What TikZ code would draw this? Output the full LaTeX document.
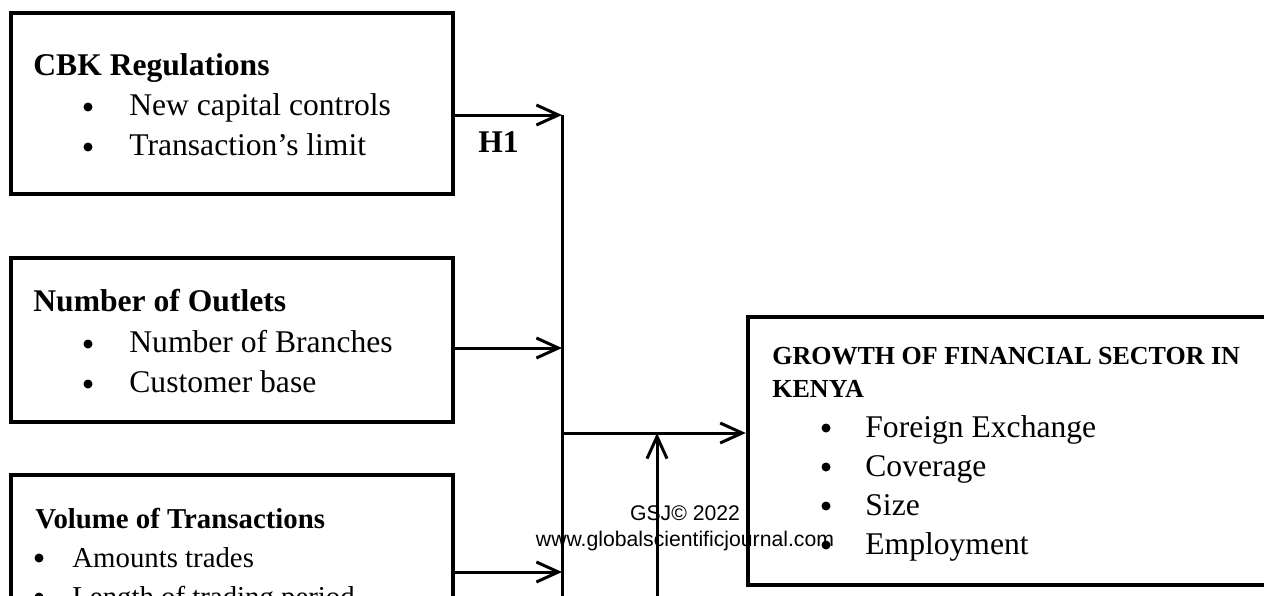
\documentclass[tikz,border=0pt]{standalone}
\usepackage{fontspec}
\setmainfont{Liberation Serif}
\newfontfamily\gsjfont{Liberation Sans}
\usetikzlibrary{arrows.meta}

\tikzset{
  varbox/.style={draw, line width=2.2pt, rectangle, inner sep=0pt},
  link/.style={line width=1.5pt, -{Straight Barb[length=11pt,width=10pt]}},
  bus/.style={line width=1.5pt},
  head/.style={anchor=base west, inner sep=0pt, font=\fontsize{15.8}{19}\selectfont\bfseries},
  item/.style={anchor=base west, inner sep=0pt, font=\fontsize{15.8}{19}\selectfont},
  dot/.style={circle, fill, inner sep=0pt, minimum size=4.5pt},
  wmtext/.style={anchor=base, inner sep=0pt, font=\gsjfont\fontsize{10.6}{12}\selectfont},
}

\begin{document}
\begin{tikzpicture}[x=0.5pt, y=-0.5pt]
        \path[use as bounding box] (0, 0) rectangle (1264, 595);
        \clip (0, 0) rectangle (1264, 595);

        % boxes
        \node[varbox, minimum width=221pt, minimum height=90.5pt] (cbk) at (232, 103.5) {};
        \node[varbox, minimum width=221pt, minimum height=82pt] (outlets) at (232, 340) {};
        \node[varbox, minimum width=221pt, minimum height=82.5pt] (volume) at (232, 557.5) {};
        \node[varbox, minimum width=266pt, minimum height=134pt] (growth) at (1014, 451) {};

        % CBK regulations
        \node[head] (cbkhead) at (33, 75) {CBK Regulations};
        \node[dot] (cbkdot1) at (88, 107) {};
        \node[item] (cbkitem1) at (129, 115) {New capital controls};
        \node[dot] (cbkdot2) at (88, 147) {};
        \node[item] (cbkitem2) at (129, 155) {Transaction’s limit};

        % number of outlets
        \node[head] (outhead) at (33, 311) {Number of Outlets};
        \node[dot] (outdot1) at (88, 344) {};
        \node[item] (outitem1) at (129, 352) {Number of Branches};
        \node[dot] (outdot2) at (88, 384) {};
        \node[item] (outitem2) at (129, 392) {Customer base};

        % volume of transactions
        \node[head, font=\fontsize{14.4}{17}\selectfont\bfseries] (volhead) at (35, 528) {Volume of Transactions};
        \node[dot] (voldot1) at (39, 558) {};
        \node[item, font=\fontsize{14.4}{17}\selectfont] (volitem1) at (72, 567) {Amounts trades};
        \node[dot] (voldot2) at (39, 597) {};
        \node[item, font=\fontsize{14.4}{17}\selectfont] (volitem2) at (72, 606) {Length of trading period};

        % growth of financial sector
        \node[head, font=\fontsize{13}{16}\selectfont\bfseries] (grhead1) at (772, 364) {GROWTH OF FINANCIAL SECTOR IN};
        \node[head, font=\fontsize{13}{16}\selectfont\bfseries] (grhead2) at (772, 397) {KENYA};
        \node[dot] (grdot1) at (826, 428) {};
        \node[item] (gritem1) at (865, 437) {Foreign Exchange};
        \node[dot] (grdot2) at (826, 467) {};
        \node[item] (gritem2) at (865, 476) {Coverage};
        \node[dot] (grdot3) at (826, 506) {};
        \node[item] (gritem3) at (865, 515) {Size};
        \node[dot] (grdot4) at (826, 545) {};
        \node[item] (gritem4) at (865, 554) {Employment};

        % connectors
        \coordinate (tip1) at (562, 115);
        \coordinate (tip2) at (562, 348);
        \coordinate (tip3) at (562, 572);
        \coordinate (busend) at (562, 610);
        \coordinate (join) at (562, 433);
        \coordinate (modtip) at (657, 433);
        \coordinate (modend) at (657, 610);
        \draw[link] (cbk.east |- tip1) -- (tip1);
        \draw[link] (outlets.east |- tip2) -- (tip2);
        \draw[link] (volume.east |- tip3) -- (tip3);
        \draw[bus] (tip1) -- (busend);
        \draw[link] (join) -- (growth.west |- join);
        \draw[link] (modend) -- (modtip);
        \node[head] (hyp) at (478, 152) {H1};

        % watermark
        \node[wmtext] (gsj) at (685, 520) {GSJ© 2022};
        \node[wmtext] (gsjurl) at (685, 546) {www.globalscientificjournal.com};
\end{tikzpicture}
\end{document}
